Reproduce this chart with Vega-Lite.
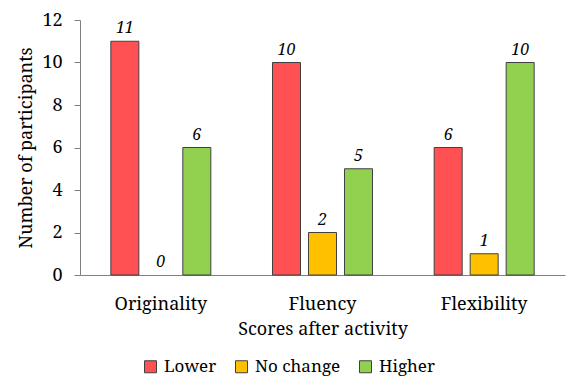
{
  "$schema": "https://vega.github.io/schema/vega-lite/v6.json",
  "width": 485,
  "height": 255,
  "autosize": "none",
  "padding": {"left": 80, "top": 20, "right": 23, "bottom": 109},
  "background": "white",
  "config": {
    "font": "Noto Serif",
    "view": {"stroke": null},
    "axis": {"labelFont": "Noto Serif", "titleFont": "Noto Serif", "labelColor": "black", "titleColor": "black", "titleFontWeight": "normal"},
    "legend": {"labelFont": "Noto Serif", "labelColor": "black"}
  },
  "data": {
    "values": [
      {"activity": "Originality", "change": "Lower", "count": 11},
      {"activity": "Originality", "change": "No change", "count": 0},
      {"activity": "Originality", "change": "Higher", "count": 6},
      {"activity": "Fluency", "change": "Lower", "count": 10},
      {"activity": "Fluency", "change": "No change", "count": 2},
      {"activity": "Fluency", "change": "Higher", "count": 5},
      {"activity": "Flexibility", "change": "Lower", "count": 6},
      {"activity": "Flexibility", "change": "No change", "count": 1},
      {"activity": "Flexibility", "change": "Higher", "count": 10}
    ]
  },
  "encoding": {
    "x": {
      "field": "activity", "type": "nominal",
      "sort": ["Originality", "Fluency", "Flexibility"],
      "scale": {"paddingInner": 0.332, "paddingOuter": 0.166},
      "axis": {"title": "Scores after activity", "labelAngle": 0, "labelFontSize": 18, "titleFontSize": 18, "ticks": false, "domainColor": "#808080", "labelPadding": 20, "titlePadding": 7}
    },
    "xOffset": {
      "field": "change", "type": "nominal",
      "sort": ["Lower", "No change", "Higher"],
      "scale": {"domain": ["Lower", "No change", "Higher"], "paddingInner": 0.222, "paddingOuter": 0.111}
    }
  },
  "layer": [
    {
      "transform": [{"filter": "datum.count > 0"}],
      "mark": {"type": "bar", "stroke": "#404040", "strokeWidth": 1},
      "encoding": {
        "y": {
          "field": "count", "type": "quantitative",
          "scale": {"domain": [0, 12]},
          "axis": {"title": "Number of participants", "values": [0, 2, 4, 6, 8, 10, 12], "grid": false, "labelFontSize": 18, "titleFontSize": 18, "domainColor": "#808080", "tickColor": "#808080", "tickSize": 6, "labelPadding": 12, "titlePadding": 6}
        },
        "color": {
          "field": "change", "type": "nominal",
          "sort": ["Lower", "No change", "Higher"],
          "scale": {"domain": ["Lower", "No change", "Higher"], "range": ["#FF5053", "#FFC000", "#92D050"]},
          "legend": {"title": null, "orient": "none", "legendX": 62, "legendY": 338, "padding": 0, "direction": "horizontal", "symbolType": "square", "symbolSize": 144, "symbolStrokeColor": "#404040", "symbolStrokeWidth": 1, "labelFontSize": 17, "labelOffset": 5, "columnPadding": 16}
        }
      }
    },
    {
      "mark": {"type": "text", "fontStyle": "italic", "fontSize": 16, "dy": -8, "baseline": "alphabetic", "color": "black", "font": "Noto Serif"},
      "encoding": {
        "y": {"field": "count", "type": "quantitative"},
        "text": {"field": "count", "type": "quantitative"}
      }
    }
  ]
}
